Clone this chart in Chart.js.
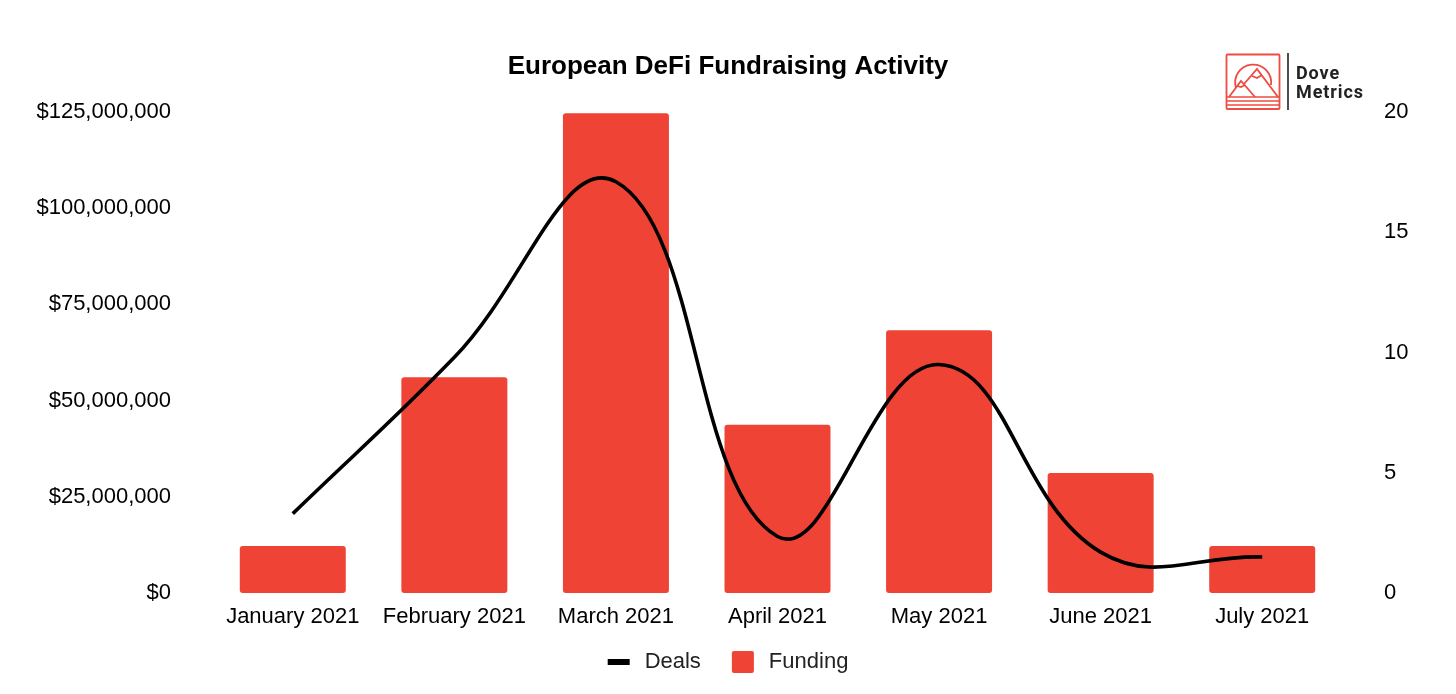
<!DOCTYPE html>
<html><head><meta charset="utf-8">
<style>
html,body{margin:0;padding:0;background:#fff;width:1456px;height:694px;overflow:hidden}
#wrap{position:relative;width:1456px;height:694px}
canvas{display:block}
#logo{position:absolute;left:1224px;top:52px}
#logoText{position:absolute;left:1296px;top:63px;font:bold 18px/19px "Roboto",sans-serif;color:#222;letter-spacing:.9px}
</style></head><body>
<div id="wrap">
<canvas id="c" width="1456" height="694"></canvas>
<svg id="logo" width="68" height="60" viewBox="0 0 68 60" fill="none" stroke="#ef4b40" stroke-width="1.8">
<rect x="2.5" y="2.5" width="53" height="54.5" rx="1"/>
<path d="M12 36 A18 18 0 1 1 47 33"/>
<path d="M5 45 L17 29 L31 45"/>
<path d="M20 32 L33 17 L54 45"/>
<path d="M13 34 L17 35 L21 33 M28 24 L33 26 L38 23"/>
<path d="M2.5 45 H55.5 M2.5 49 H55.5 M2.5 53 H55.5" stroke-width="1.5"/>
<path d="M64 1 V58" stroke="#222" stroke-width="1.6"/>
</svg>
<div id="logoText">Dove<br>Metrics</div>
</div>
<script src="https://cdn.jsdelivr.net/npm/chart.js@4/dist/chart.umd.min.js"></script>
<script>
const categories=["January 2021","February 2021","March 2021","April 2021","May 2021","June 2021","July 2021"];
const funding=[12200000,56100000,124700000,43700000,68300000,31200000,12200000];
const deals=[3.3,9.8,17.1,2.35,9.5,1.7,1.5];
const fundingTicks=[0,25000000,50000000,75000000,100000000,125000000];
const dealTicks=[0,5,10,15,20];
const RED="#ee4335",FONT='"Liberation Sans",Arial,sans-serif';
function swatch(mw,h,color,r){
  const c=document.createElement('canvas');c.width=44;c.height=h;
  const x=c.getContext('2d');x.fillStyle=color;x.beginPath();x.roundRect(18,0,mw,h,r);x.fill();return c;
}
const legendShift={id:'legendShift',afterLayout(chart){chart.legend.left-=9;chart.legend.right-=9;}};
new Chart(document.getElementById('c'),{
  plugins:[legendShift],
  data:{labels:categories,datasets:[
    {type:'line',label:'Deals',data:deals,yAxisID:'y2',borderColor:'#000',borderWidth:3.6,pointRadius:0,tension:0.42,fill:false,order:0},
    {type:'bar',label:'Funding',data:funding,yAxisID:'y',backgroundColor:RED,borderRadius:3,borderSkipped:false,barPercentage:0.656,categoryPercentage:1,order:1}
  ]},
  options:{
    responsive:false,animation:false,
    layout:{padding:{top:0,bottom:11,left:0,right:0}},
    plugins:{
      title:{display:true,text:'European DeFi Fundraising Activity',color:'#000',font:{family:FONT,size:26,weight:'bold'},padding:{top:51,bottom:29.8}},
      legend:{position:'bottom',labels:{
        usePointStyle:true,color:'#222',font:{family:FONT,size:22},padding:13,boxHeight:22,pointStyleWidth:44,
        generateLabels(chart){return [
          {text:'Deals',pointStyle:swatch(22,6,'#000',0),fillStyle:'#000',strokeStyle:'#000',lineWidth:0,datasetIndex:0,fontColor:'#222'},
          {text:'Funding',pointStyle:swatch(22,22,RED,2),fillStyle:RED,strokeStyle:RED,lineWidth:0,datasetIndex:1,fontColor:'#222'}
        ];}
      }},
      tooltip:{enabled:false}
    },
    scales:{
      x:{grid:{display:false},border:{display:false},ticks:{color:'#000',font:{family:FONT,size:22},maxRotation:0,padding:3},
         afterFit(a){a.height=45;}},
      y:{position:'left',min:0,max:125000000,afterBuildTicks(a){a.ticks=fundingTicks.map(v=>({value:v}));},
         grid:{display:false},border:{display:false},
         ticks:{color:'#000',font:{family:FONT,size:22},padding:33,callback:v=>'$'+v.toLocaleString('en-US')},
         afterFit(a){a.width=212;}},
      y2:{position:'right',min:0,max:20,afterBuildTicks(a){a.ticks=dealTicks.map(v=>({value:v}));},
         grid:{display:false},border:{display:false},
         ticks:{color:'#000',font:{family:FONT,size:22},padding:33},
         afterFit(a){a.width=113;}}
    }
  }
});
</script>
</body></html>
